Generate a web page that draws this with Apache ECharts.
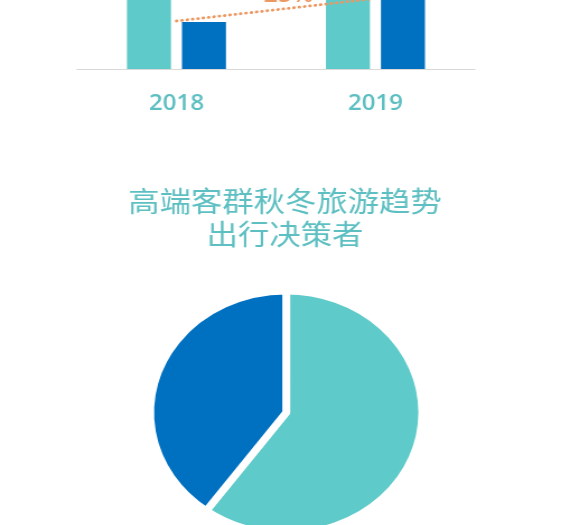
<!DOCTYPE html>
<html>
<head>
<meta charset="utf-8">
<script src="https://cdn.jsdelivr.net/npm/echarts@6/dist/echarts.min.js"></script>
<style>
  html, body { margin: 0; padding: 0; background: #ffffff; overflow: hidden; }
  #wrap { width: 570px; height: 525px; overflow: hidden; }
  #chart { width: 509px; height: 525px; transform: scaleX(1.1198); transform-origin: 0 0; }
</style>
</head>
<body>
<div id="wrap"><div id="chart"></div></div>
<script>
// ---- data ----
const years = ['2018', '2019'];
const barSeriesA = [110, 128];      // teal bars (tops above visible area)
const barSeriesB = [47, 72];        // dark blue bars
const trendValues = [48, 70.5];     // dotted trend line
const trendLabel = '+25%';
const pieNames = ['A', 'B'];
const pieValues = [60, 40];
const titleText = '高端客群秋冬旅游趋势\n出行决策者';

const TEAL = '#5ECBCA';
const BLUE = '#0070C0';
const ORANGE = '#EC9863';
const LABEL_TEAL = '#5DBFC1';

const chart = echarts.init(document.getElementById('chart'), null, { renderer: 'canvas' });

chart.setOption({
  backgroundColor: '#ffffff',
  animation: false,
  title: {
    text: titleText,
    left: 'center',
    top: 185,
    padding: [0, 0, 0, 8],
    textStyle: {
      fontFamily: '"Noto Sans CJK SC", sans-serif',
      fontSize: 28,
      fontWeight: 'normal',
      lineHeight: 33,
      color: LABEL_TEAL
    }
  },
  grid: {
    left: 68.75,
    right: 84.9,
    top: -231,
    height: 300,
    containLabel: false,
    outerBoundsMode: 'none'
  },
  xAxis: {
    type: 'category',
    data: years,
    axisLine: { show: true, lineStyle: { color: '#D9D9D9', width: 1.2 } },
    axisTick: { show: false },
    axisLabel: {
      margin: 24,
      fontFamily: '"Open Sans", sans-serif',
      fontSize: 21.5,
      fontWeight: 600,
      color: LABEL_TEAL
    },
    splitLine: { show: false }
  },
  yAxis: {
    type: 'value',
    min: 0,
    max: 300,
    show: false,
    splitLine: { show: false }
  },
  series: [
    {
      type: 'bar',
      data: barSeriesA,
      barWidth: 39.3,
      barGap: '25%',
      itemStyle: { color: TEAL },
      silent: true
    },
    {
      type: 'bar',
      data: barSeriesB,
      barWidth: 39.3,
      itemStyle: { color: BLUE },
      silent: true
    },
    {
      type: 'line',
      data: trendValues,
      symbol: 'none',
      z: 5,
      lineStyle: { color: ORANGE, width: 2.8, type: [0.4, 4.4], cap: 'round' },
      silent: true
    },
    {
      type: 'pie',
      center: [255.6, 412.5],
      radius: 121.5,
      startAngle: 90,
      clockwise: true,
      data: pieNames.map((n, i) => ({ name: n, value: pieValues[i] })),
      color: [TEAL, BLUE],
      itemStyle: { borderColor: '#ffffff', borderWidth: 7 },
      label: { show: false },
      labelLine: { show: false },
      emphasis: { disabled: true },
      silent: true
    }
  ],
  graphic: [
    {
      type: 'text',
      left: 223,
      top: -15.5,
      z: 10,
      style: {
        text: trendLabel,
        fontFamily: '"Open Sans", sans-serif',
        fontSize: 22,
        fontWeight: 600,
        fill: ORANGE
      }
    }
  ]
});
</script>
</body>
</html>
